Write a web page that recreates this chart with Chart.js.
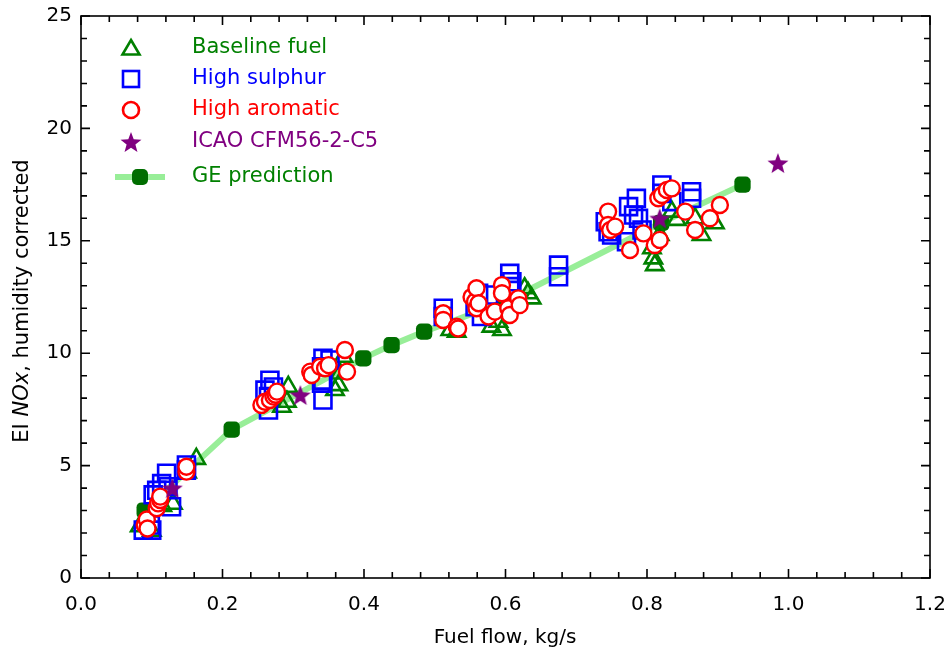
<!DOCTYPE html>
<html>
<head>
<meta charset="utf-8">
<script src="https://cdn.jsdelivr.net/npm/chart.js@4.4.1/dist/chart.umd.min.js"></script>
<style>
html, body { margin: 0; padding: 0; background: #fff; overflow: hidden; }
#wrap { position: relative; width: 948px; height: 660px; }
</style>
</head>
<body>
<div id="wrap"><canvas id="noxChart"></canvas></div>
<script>

// Baseline fuel
var baseX = [0.083, 0.100, 0.115, 0.130, 0.150, 0.163,
             0.284, 0.291, 0.293, 0.359, 0.364, 0.366, 0.371,
             0.522, 0.531, 0.580, 0.590, 0.595, 0.627, 0.632, 0.637,
             0.807, 0.809, 0.811, 0.818, 0.835, 0.842, 0.868, 0.877, 0.896];
var baseY = [2.3, 2.1, 3.2, 3.3, 4.7, 5.3,
             7.62, 7.84, 8.5, 8.36, 8.58, 9.1, 9.84,
             11.03, 10.96, 11.18, 11.4, 11.03, 12.89, 12.67, 12.44,
             14.67, 14.22, 13.92, 15.26, 16.3, 15.93, 16.0, 15.26, 15.78];

// High sulphur
var sulX = [0.088, 0.098, 0.100, 0.102, 0.107, 0.114, 0.121, 0.123, 0.128, 0.149, 0.149,
            0.260, 0.265, 0.265, 0.267, 0.272, 0.340, 0.340, 0.342, 0.342, 0.342, 0.352,
            0.512, 0.512, 0.557, 0.562, 0.566, 0.576, 0.606, 0.609, 0.606, 0.675, 0.675,
            0.741, 0.745, 0.750, 0.771, 0.774, 0.781, 0.785, 0.788, 0.793, 0.821, 0.821, 0.835, 0.863, 0.863];
var sulY = [2.13, 2.36, 2.13, 3.7, 3.9, 4.2, 4.66, 4.06, 3.17, 4.8, 5.03,
            8.36, 8.07, 7.47, 8.8, 8.5, 9.4, 8.66, 9.77, 8.8, 7.92, 9.7,
            12.0, 11.63, 12.07, 12.67, 11.63, 12.59, 13.55, 13.18, 12.96, 13.92, 13.4,
            15.85, 15.4, 15.26, 14.96, 16.52, 16.15, 16.89, 16.0, 15.48, 17.48, 17.11, 16.74, 17.18, 16.89];

// High aromatic
var aroX = [0.090, 0.093, 0.094, 0.107, 0.109, 0.112, 0.112, 0.149, 0.149,
            0.255, 0.260, 0.267, 0.272, 0.275, 0.277, 0.324, 0.326, 0.338, 0.345, 0.350, 0.373, 0.376,
            0.512, 0.512, 0.531, 0.533, 0.552, 0.557, 0.559, 0.559, 0.562, 0.576, 0.585, 0.595, 0.595, 0.604, 0.606, 0.618, 0.620,
            0.745, 0.745, 0.748, 0.755, 0.776, 0.795, 0.811, 0.818, 0.816, 0.821, 0.828, 0.835, 0.854, 0.868, 0.889, 0.903];
var aroY = [2.36, 2.6, 2.2, 3.1, 3.32, 3.47, 3.62, 4.73, 4.95,
            7.7, 7.84, 7.92, 8.07, 8.15, 8.29, 9.18, 9.03, 9.4, 9.33, 9.47, 10.14, 9.18,
            11.78, 11.48, 11.18, 11.1, 12.5, 12.3, 12.89, 12.0, 12.22, 11.63, 11.85, 13.03, 12.67, 12.0, 11.7, 12.44, 12.14,
            16.3, 15.7, 15.48, 15.63, 14.59, 15.33, 14.81, 15.04, 16.89, 17.04, 17.26, 17.33, 16.3, 15.48, 16.0, 16.59];

// ICAO CFM56-2-C5
var icaoX = [0.129, 0.310, 0.818, 0.985];
var icaoY = [4.0, 8.14, 16.0, 18.46];

// GE prediction
var geX = [0.090, 0.213, 0.399, 0.439, 0.485, 0.600, 0.820, 0.935];
var geY = [3.0, 6.6, 9.77, 10.36, 10.96, 12.3, 15.8, 17.5];

var xTicks = [0.0, 0.2, 0.4, 0.6, 0.8, 1.0, 1.2];
var yTicks = [0, 5, 10, 15, 20, 25];

function pts(xs, ys) {
    return xs.map(function (x, i) { return { x: x, y: ys[i] }; });
}

// filled five point star, Chart.js 'star' is only a cross
function makeStar(r) {
    var c = document.createElement('canvas');
    c.width = c.height = Math.ceil(r * 2 + 2);
    var g = c.getContext('2d');
    var cx = c.width / 2, cy = c.height / 2 + r * 0.1;
    g.beginPath();
    for (var i = 0; i < 10; i++) {
        var rr = i % 2 == 0 ? r : r * 0.42;
        var a = -Math.PI / 2 + i * Math.PI / 5;
        g.lineTo(cx + rr * Math.cos(a), cy + rr * Math.sin(a));
    }
    g.closePath();
    g.fillStyle = '#800080';
    g.fill();
    return c;
}
var starImg = makeStar(11);

var FONT = "'DejaVu Sans', 'Liberation Sans', sans-serif";

var legendItems = [
    { kind: 'tri', text: 'Baseline fuel', color: '#008000', y: 48 },
    { kind: 'sq', text: 'High sulphur', color: '#0000ff', y: 79 },
    { kind: 'circ', text: 'High aromatic', color: '#ff0000', y: 110 },
    { kind: 'star', text: 'ICAO CFM56-2-C5', color: '#800080', y: 142 },
    { kind: 'ge', text: 'GE prediction', color: '#008000', y: 177 }
];

var decor = {
    id: 'decor',
    afterDatasetsDraw: function (chart) {
        var a = chart.chartArea, ctx = chart.ctx;
        var xs = chart.scales.x, ys = chart.scales.y;
        ctx.save();
        ctx.strokeStyle = '#000';
        ctx.lineWidth = 1.6;
        ctx.strokeRect(a.left, a.top, a.right - a.left, a.bottom - a.top);
        ctx.beginPath();
        for (var i = 0; i <= 30; i++) {
            var px = xs.getPixelForValue(i * 0.04);
            var len = i % 5 == 0 ? 9 : 6;
            ctx.moveTo(px, a.bottom); ctx.lineTo(px, a.bottom - len);
            ctx.moveTo(px, a.top); ctx.lineTo(px, a.top + len);
        }
        for (var j = 0; j <= 25; j++) {
            var py = ys.getPixelForValue(j);
            var l2 = j % 5 == 0 ? 9 : 6;
            ctx.moveTo(a.left, py); ctx.lineTo(a.left + l2, py);
            ctx.moveTo(a.right, py); ctx.lineTo(a.right - l2, py);
        }
        ctx.stroke();

        // legend
        var mx = 131, tx = 192;
        legendItems.forEach(function (it) {
            var y = it.y;
            ctx.lineWidth = 2.6;
            if (it.kind == 'tri') {
                ctx.strokeStyle = it.color;
                ctx.beginPath();
                ctx.moveTo(mx, y - 8); ctx.lineTo(mx + 8.5, y + 6.5); ctx.lineTo(mx - 8.5, y + 6.5);
                ctx.closePath(); ctx.stroke();
            } else if (it.kind == 'sq') {
                ctx.strokeStyle = it.color;
                ctx.strokeRect(mx - 8, y - 8, 16, 16);
            } else if (it.kind == 'circ') {
                ctx.strokeStyle = it.color;
                ctx.fillStyle = '#fff';
                ctx.beginPath(); ctx.arc(mx, y, 8, 0, Math.PI * 2); ctx.fill(); ctx.stroke();
            } else if (it.kind == 'star') {
                ctx.drawImage(starImg, mx - starImg.width / 2, y - starImg.height / 2);
            } else {
                ctx.strokeStyle = '#98ee98';
                ctx.lineWidth = 6;
                ctx.beginPath(); ctx.moveTo(mx - 16, y); ctx.lineTo(mx + 34, y); ctx.stroke();
                ctx.fillStyle = '#006e00';
                ctx.beginPath();
                ctx.roundRect(mx + 1, y - 8, 16, 16, 5);
                ctx.fill();
            }
            ctx.fillStyle = it.color;
            ctx.font = '21px ' + FONT;
            ctx.textBaseline = 'middle';
            ctx.textAlign = 'left';
            ctx.fillText(it.text, tx, y);
        });

        // axis titles
        ctx.fillStyle = '#000';
        ctx.textBaseline = 'middle';
        ctx.textAlign = 'center';
        ctx.font = '20px ' + FONT;
        ctx.fillText('Fuel flow, kg/s', 505, 638);

        ctx.translate(23, 301);
        ctx.rotate(-Math.PI / 2);
        var parts = [['EI ', ''], ['NOx', 'italic '], [', humidity corrected', '']];
        var w = 0;
        parts.forEach(function (p) { ctx.font = p[1] + '21px ' + FONT; w += ctx.measureText(p[0]).width; });
        var x0 = -w / 2;
        ctx.textAlign = 'left';
        parts.forEach(function (p) {
            ctx.font = p[1] + '21px ' + FONT;
            ctx.fillText(p[0], x0, 0);
            x0 += ctx.measureText(p[0]).width;
        });
        ctx.restore();
    }
};

var ctx = document.getElementById('noxChart').getContext('2d');
var chart = new Chart(ctx, {
    type: 'scatter',
    data: {
        datasets: [{
            label: 'ICAO CFM56-2-C5',
            data: pts(icaoX, icaoY),
            pointStyle: starImg,
            order: 1
        }, {
            label: 'High aromatic',
            data: pts(aroX, aroY),
            pointStyle: 'circle',
            pointRadius: 8,
            borderColor: '#ff0000',
            backgroundColor: '#ffffff',
            borderWidth: 2.4,
            order: 2
        }, {
            label: 'High sulphur',
            data: pts(sulX, sulY),
            pointStyle: 'rect',
            pointRadius: 12,
            borderColor: '#0000ff',
            backgroundColor: 'rgba(0,0,0,0)',
            borderWidth: 2.6,
            order: 3
        }, {
            label: 'Baseline fuel',
            data: pts(baseX, baseY),
            pointStyle: 'triangle',
            pointRadius: 10,
            borderColor: '#008000',
            backgroundColor: 'rgba(0,0,0,0)',
            borderWidth: 2.6,
            order: 4
        }, {
            label: 'GE prediction',
            type: 'line',
            data: pts(geX, geY),
            showLine: true,
            borderColor: '#98ee98',
            borderWidth: 6,
            pointStyle: 'rectRounded',
            pointRadius: 9.5,
            pointBackgroundColor: '#006e00',
            pointBorderColor: '#006e00',
            pointBorderWidth: 0,
            tension: 0,
            fill: false,
            order: 5
        }]
    },
    options: {
        responsive: true,
        maintainAspectRatio: false,
        animation: false,
        layout: { padding: { top: 16, right: 18, left: 0, bottom: 0 } },
        plugins: {
            legend: { display: false },
            tooltip: { enabled: false }
        },
        scales: {
            x: {
                type: 'linear',
                min: 0, max: 1.2,
                afterFit: function (s) { s.height = 82; },
                afterBuildTicks: function (s) { s.ticks = xTicks.map(function (v) { return { value: v }; }); },
                grid: { display: false, tickLength: 13 },
                border: { display: false },
                ticks: {
                    color: '#000',
                    padding: 2,
                    maxRotation: 0,
                    font: { family: FONT, size: 20 },
                    callback: function (v) { return v.toFixed(1); }
                }
            },
            y: {
                type: 'linear',
                min: 0, max: 25,
                afterFit: function (s) { s.width = 81; },
                afterBuildTicks: function (s) { s.ticks = yTicks.map(function (v) { return { value: v }; }); },
                grid: { display: false, tickLength: 8 },
                border: { display: false },
                ticks: {
                    color: '#000',
                    padding: 1,
                    font: { family: FONT, size: 20 }
                }
            }
        }
    },
    plugins: [decor]
});
</script>
</body>
</html>
